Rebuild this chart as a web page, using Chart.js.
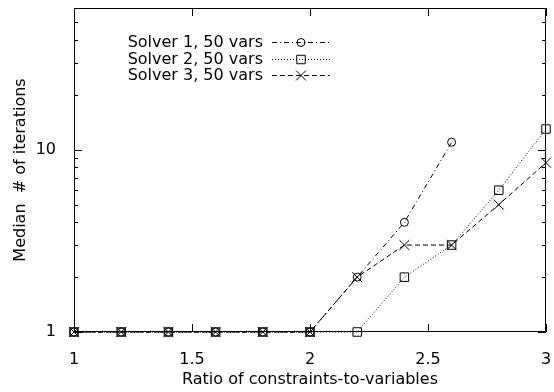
<!DOCTYPE html>
<html>
<head>
<meta charset="utf-8">
<script src="https://cdn.jsdelivr.net/npm/chart.js@4/dist/chart.umd.min.js"></script>
<style>
    body { margin: 0; background: #fff; }
    canvas { display: block; }
</style>
</head>
<body>
<canvas id="chart" width="554" height="392"></canvas>
<script>
// values
const ratios = [1, 1.2, 1.4, 1.6, 1.8, 2, 2.2, 2.4, 2.6, 2.8, 3];
const solver1 = [1, 1, 1, 1, 1, 1, 2, 4, 11, null, null];
const solver2 = [1, 1, 1, 1, 1, 1, 1, 2, 3, 6, 13];
const solver3 = [1, 1, 1, 1, 1, 1, 2, 3, 3, 5, 8.5];
const seriesNames = ['Solver 1, 50 vars', 'Solver 2, 50 vars', 'Solver 3, 50 vars'];

const xTicks = [1, 1.5, 2, 2.5, 3];
const yMajorTicks = [1, 10];
const yMinorTicks = [2, 3, 4, 5, 6, 7, 8, 9, 20, 30, 40, 50];

const FONT = { family: 'DejaVu Sans', size: 16 };

function toPoints(values) {
    return ratios.map((x, i) => ({ x: x, y: values[i] })).filter(p => p.y !== null);
}

function makeDataset(label, values, dash, style, radius) {
    return {
        label: label,
        data: toPoints(values),
        showLine: true,
        borderColor: '#000',
        borderWidth: 1,
        borderDash: dash,
        pointStyle: style,
        pointRadius: radius,
        pointHoverRadius: radius,
        pointBorderColor: '#000',
        pointBackgroundColor: 'rgba(0,0,0,0)',
        pointBorderWidth: 1,
        clip: false
    };
}

// frame, inward ticks on all four sides, and a gnuplot-style key
const framePlugin = {
    id: 'frame',
    afterDraw(chart) {
        const ctx = chart.ctx;
        const a = chart.chartArea;
        const xs = chart.scales.x, ys = chart.scales.y;
        ctx.save();
        ctx.strokeStyle = '#000';
        ctx.lineWidth = 1;
        ctx.setLineDash([]);
        ctx.beginPath();
        ctx.rect(a.left + 0.5, a.top + 0.5, a.right - a.left - 1, a.bottom - a.top - 1);
        ctx.stroke();

        ctx.beginPath();
        xTicks.forEach(v => {
            const px = Math.round(xs.getPixelForValue(v)) + 0.5;
            ctx.moveTo(px, a.bottom); ctx.lineTo(px, a.bottom - 8);
            ctx.moveTo(px, a.top); ctx.lineTo(px, a.top + 8);
        });
        yMajorTicks.forEach(v => {
            const py = Math.round(ys.getPixelForValue(v)) + 0.5;
            ctx.moveTo(a.left, py); ctx.lineTo(a.left + 8, py);
            ctx.moveTo(a.right, py); ctx.lineTo(a.right - 8, py);
        });
        yMinorTicks.forEach(v => {
            const py = Math.round(ys.getPixelForValue(v)) + 0.5;
            ctx.moveTo(a.left, py); ctx.lineTo(a.left + 4, py);
            ctx.moveTo(a.right, py); ctx.lineTo(a.right - 4, py);
        });
        ctx.stroke();

        // key
        ctx.font = FONT.size + 'px ' + FONT.family;
        ctx.textAlign = 'right';
        ctx.textBaseline = 'middle';
        chart.data.datasets.forEach((ds, i) => {
            const y = Math.round(42 + i * 16.5) + 0.5;
            ctx.fillStyle = '#000';
            ctx.fillText(ds.label, 263, y);
            ctx.save();
            ctx.setLineDash(ds.borderDash);
            ctx.beginPath();
            ctx.moveTo(272, y);
            ctx.lineTo(330, y);
            ctx.stroke();
            ctx.restore();
            ctx.fillStyle = 'rgba(0,0,0,0)';
            Chart.helpers.drawPoint(ctx, {
                pointStyle: ds.pointStyle,
                radius: ds.pointRadius,
                rotation: 0,
                borderWidth: 1
            }, 301, y);
        });
        ctx.restore();
    }
};

new Chart(document.getElementById('chart'), {
    type: 'scatter',
    data: {
        datasets: [
            makeDataset(seriesNames[0], solver1, [5, 3, 1, 3], 'circle', 4),
            makeDataset(seriesNames[1], solver2, [1, 2], 'rect', 6),
            makeDataset(seriesNames[2], solver3, [5, 3], 'crossRot', 7)
        ]
    },
    options: {
        responsive: false,
        animation: false,
        layout: { padding: { top: 8, right: 8, left: 0, bottom: 0 } },
        plugins: {
            legend: { display: false },
            tooltip: { enabled: false }
        },
        scales: {
            x: {
                type: 'linear',
                min: 1,
                max: 3,
                afterFit: s => { s.height = 60; s.paddingLeft = 0; s.paddingRight = 0; },
                afterBuildTicks: s => { s.ticks = xTicks.map(v => ({ value: v })); },
                grid: { display: false },
                border: { display: false },
                ticks: { color: '#000', font: FONT, padding: 10, maxRotation: 0, callback: v => String(v) },
                title: {
                    display: true,
                    text: 'Ratio of constraints-to-variables',
                    color: '#000',
                    font: FONT,
                    padding: { top: 0, bottom: 3 }
                }
            },
            y: {
                type: 'logarithmic',
                min: 1,
                max: 60,
                afterFit: s => { s.width = 74; s.paddingTop = 0; s.paddingBottom = 0; },
                afterBuildTicks: s => { s.ticks = yMajorTicks.map(v => ({ value: v })); },
                grid: { display: false },
                border: { display: false },
                ticks: { color: '#000', font: FONT, padding: 10, callback: v => String(v) },
                title: {
                    display: true,
                    text: 'Median  # of iterations',
                    color: '#000',
                    font: FONT,
                    padding: { top: 11, bottom: 0 }
                }
            }
        }
    },
    plugins: [framePlugin]
});
</script>
</body>
</html>
